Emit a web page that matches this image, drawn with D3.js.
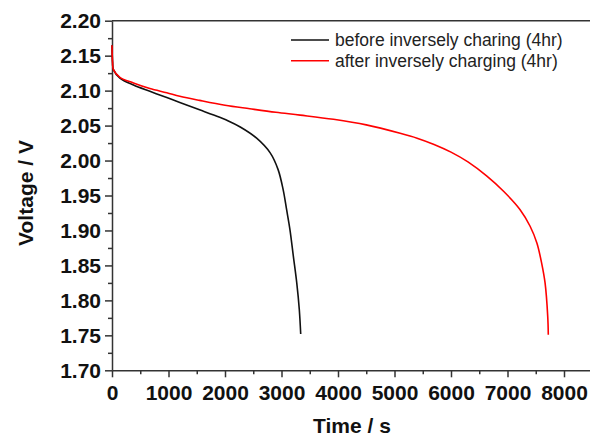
<!DOCTYPE html>
<html>
<head>
<meta charset="utf-8">
<script src="https://cdn.jsdelivr.net/npm/d3@7"></script>
<style>
  body { margin: 0; background: #fff; }
  svg { display: block; }
  .tick text { font-family: "Liberation Sans", Arial, sans-serif; font-weight: bold; font-size: 21px; fill: #111; }
  .axis-title { font-family: "Liberation Sans", Arial, sans-serif; font-weight: bold; font-size: 21px; fill: #111; }
  .legend text { font-family: "Liberation Sans", Arial, sans-serif; font-size: 17.5px; fill: #222; }
</style>
</head>
<body>
<script>
// discharge curves: time (s) and voltage (V)
var beforeTime = [0, 10, 25, 140, 380, 670, 970, 1200, 1550, 1800, 2050, 2270, 2560, 2800, 2940, 3030, 3090, 3150, 3210, 3270, 3315, 3340];
var beforeVolt = [2.165, 2.14, 2.13, 2.118, 2.108, 2.099, 2.090, 2.083, 2.0725, 2.065, 2.057, 2.048, 2.032, 2.011, 1.987, 1.958, 1.930, 1.901, 1.863, 1.825, 1.787, 1.752];

var afterTime = [0, 10, 25, 140, 380, 670, 970, 1200, 1550, 2000, 2440, 2900, 3330, 3920, 4500, 5100, 5400, 5700, 6000, 6300, 6630, 6930, 7220, 7400, 7520, 7605, 7665, 7712, 7722];
var afterVolt = [2.165, 2.14, 2.13, 2.119, 2.111, 2.103, 2.097, 2.092, 2.086, 2.079, 2.074, 2.069, 2.065, 2.059, 2.051, 2.039, 2.032, 2.023, 2.012, 1.998, 1.978, 1.956, 1.930, 1.906, 1.882, 1.853, 1.825, 1.777, 1.751];

var seriesNames = ["before inversely charing (4hr)", "after inversely charging (4hr)"];
var seriesColors = ["#111", "#ff0000"];

var xTicks = [0, 1000, 2000, 3000, 4000, 5000, 6000, 7000, 8000];
var yTicks = [1.70, 1.75, 1.80, 1.85, 1.90, 1.95, 2.00, 2.05, 2.10, 2.15, 2.20];

var width = 590;
var height = 439;

var svg = d3.select("body").append("svg")
    .attr("width", width)
    .attr("height", height);

// plot box runs off the right edge of the picture, like the original crop
var x = d3.scaleLinear().domain([0, 9000]).range([112, 620.5]);
var y = d3.scaleLinear().domain([1.70, 2.20]).range([370.3, 20.7]);

var xMinor = xTicks.map(function (d) { return d + 500; });
var yMinor = yTicks.slice(0, -1).map(function (d) { return d + 0.025; });

// top frame line
svg.append("line")
    .attr("x1", x(0)).attr("x2", x(9000))
    .attr("y1", y(2.20)).attr("y2", y(2.20))
    .attr("stroke", "#333").attr("stroke-width", 1.5);

svg.append("g")
    .attr("transform", `translate(0 ${y(1.70)})`)
    .call(d3.axisBottom(x).tickValues(xTicks).tickFormat(d3.format("d"))
        .tickSize(7).tickSizeOuter(0).tickPadding(8));

svg.append("g")
    .attr("transform", `translate(0 ${y(1.70)})`)
    .call(d3.axisBottom(x).tickValues(xMinor).tickFormat("").tickSize(4).tickSizeOuter(0))
    .select(".domain").remove();

svg.append("g")
    .attr("transform", `translate(${x(0)} 0)`)
    .call(d3.axisLeft(y).tickValues(yTicks).tickFormat(d3.format(".2f"))
        .tickSize(7).tickSizeOuter(0).tickPadding(4));

svg.append("g")
    .attr("transform", `translate(${x(0)} 0)`)
    .call(d3.axisLeft(y).tickValues(yMinor).tickFormat("").tickSize(4).tickSizeOuter(0))
    .select(".domain").remove();

svg.selectAll(".domain, .tick line")
    .attr("stroke", "#333")
    .attr("stroke-width", 1.5);

// curves
var series = [
    beforeTime.map(function (t, i) { return [t, beforeVolt[i]]; }),
    afterTime.map(function (t, i) { return [t, afterVolt[i]]; })
];

var line = d3.line()
    .x(function (d) { return x(d[0]); })
    .y(function (d) { return y(d[1]); })
    .curve(d3.curveCatmullRom.alpha(0.5));

svg.selectAll(".curve")
    .data(series)
    .enter().append("path")
    .attr("class", "curve")
    .attr("fill", "none")
    .attr("stroke", function (d, i) { return seriesColors[i]; })
    .attr("stroke-width", 1.6)
    .attr("d", line);

// legend
var legend = svg.append("g").attr("class", "legend");
var rows = legend.selectAll("g")
    .data(seriesNames)
    .enter().append("g")
    .attr("transform", function (d, i) { return `translate(291 ${40 + i * 20.7})`; });

rows.append("line")
    .attr("x1", 0).attr("x2", 38)
    .attr("stroke", function (d, i) { return seriesColors[i]; })
    .attr("stroke-width", 1.6);

rows.append("text")
    .attr("x", 44)
    .attr("y", 6)
    .text(function (d) { return d; });

// axis titles
svg.append("text")
    .attr("class", "axis-title")
    .attr("x", 352)
    .attr("y", 433)
    .attr("text-anchor", "middle")
    .text("Time / s");

svg.append("text")
    .attr("class", "axis-title")
    .attr("transform", "translate(33 193) rotate(-90)")
    .attr("text-anchor", "middle")
    .text("Voltage / V");
</script>
</body>
</html>
